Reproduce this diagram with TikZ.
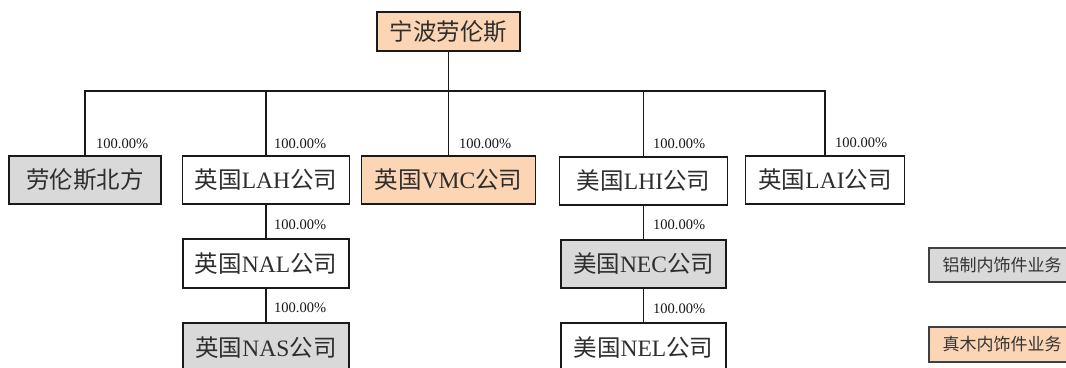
\documentclass[tikz,border=0pt]{standalone}
\usepackage{fontspec}
\setmainfont{Liberation Serif}
\newfontfamily\cjk{Noto Sans CJK SC}
\newcommand{\zh}[1]{{\cjk #1}}
\definecolor{peach}{HTML}{FCD5B4}
\definecolor{lgray}{HTML}{D9D9D9}
\begin{document}
\begin{tikzpicture}[x=1pt,y=-1pt,
  box/.style={draw=black!90, line width=1.5pt, rectangle, inner sep=0pt,
    text=black!82, font=\fontsize{23.5}{25}\selectfont},
  boxgray/.style={box, fill=lgray},
  boxpeach/.style={box, fill=peach},
  legendbox/.style={draw=black!75, line width=1.3pt, rectangle, inner sep=0pt,
    text=black!80, font=\fontsize{17}{18}\selectfont,
    minimum width=146pt},
  conn/.style={draw=black!90, line width=1.6pt},
  pct/.style={anchor=west, inner sep=0pt, text=black!90,
    font=\fontsize{14.5}{15}\selectfont}]
\useasboundingbox (0,0) rectangle (1066,367);
\fill[white] (0,0) rectangle (1066,367);

% top
\node[boxpeach, minimum width=143pt, minimum height=39pt] (top) at (448.5,31.5) {\zh{宁波劳伦斯}};

% row 1
\node[boxgray, minimum width=152pt, minimum height=48pt] (north) at (85,180) {\zh{劳伦斯北方}};
\node[box, minimum width=167pt, minimum height=48pt] (lah) at (266,180) {\zh{英国}LAH\zh{公司}};
\node[boxpeach, minimum width=174pt, minimum height=48pt] (vmc) at (448.5,180) {\zh{英国}VMC\zh{公司}};
\node[box, minimum width=168pt, minimum height=48pt] (lhi) at (643.5,181) {\zh{美国}LHI\zh{公司}};
\node[box, minimum width=159pt, minimum height=48pt] (lai) at (825,180) {\zh{英国}LAI\zh{公司}};

% row 2
\node[box, minimum width=166pt, minimum height=49pt] (nal) at (266,263.5) {\zh{英国}NAL\zh{公司}};
\node[boxgray, minimum width=165pt, minimum height=48pt] (nec) at (643.5,264) {\zh{美国}NEC\zh{公司}};

% row 3
\node[boxgray, minimum width=166pt, minimum height=49pt] (nas) at (266,347.5) {\zh{英国}NAS\zh{公司}};
\node[box, minimum width=165pt, minimum height=49pt] (nel) at (643.5,347.5) {\zh{美国}NEL\zh{公司}};

% legend
\node[legendbox, fill=lgray, minimum height=34pt] (leg1) at (1002,265) {\zh{铝制内饰件业务}};
\node[legendbox, fill=peach, minimum height=35pt] (leg2) at (1002,344.5) {\zh{真木内饰件业务}};

% connectors
\coordinate (bar) at (0,91);
\foreach \c in {north,lah,vmc,lhi,lai}{
  \draw[conn] (top.south) -- (top.south |- bar) -| (\c.north);
}
\draw[conn] (lah.south) -- (nal.north);
\draw[conn] (nal.south) -- (nas.north);
\draw[conn] (lhi.south) -- (nec.north);
\draw[conn] (nec.south) -- (nel.north);

% percentages
\node[pct] (p1) at (96,144) {100.00\%};
\node[pct] (p2) at (274,144) {100.00\%};
\node[pct] (p3) at (459,144) {100.00\%};
\node[pct] (p4) at (653,144) {100.00\%};
\node[pct] (p5) at (835,143) {100.00\%};
\node[pct] (p6) at (274,225) {100.00\%};
\node[pct] (p7) at (653,225) {100.00\%};
\node[pct] (p8) at (274,308) {100.00\%};
\node[pct] (p9) at (653,309) {100.00\%};
\end{tikzpicture}
\end{document}
